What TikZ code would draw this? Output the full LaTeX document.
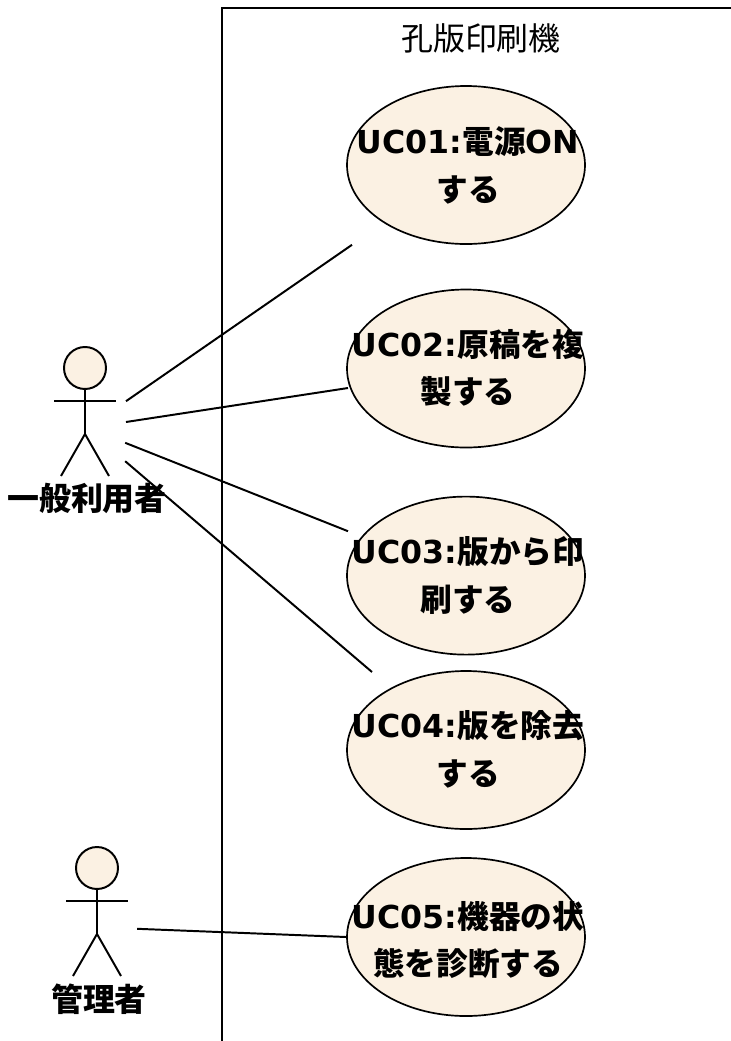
\documentclass[tikz,border=0pt]{standalone}
\usepackage{fontspec}
\setmainfont{DejaVu Sans}
\newfontfamily\cjk{Noto Sans CJK JP}
\usetikzlibrary{shapes.geometric}
\definecolor{usecasefill}{HTML}{FBF1E3}
\tikzset{
  usecase/.style={ellipse, draw, line width=1.2pt, fill=usecasefill, minimum width=5.95cm, minimum height=3.95cm, inner sep=0pt},
  uclabel/.style={align=center, inner sep=0pt, font=\fontsize{22.5}{34}\selectfont\bfseries},
  actorlabel/.style={inner sep=0pt, font=\fontsize{22.7}{26}\selectfont\cjk\bfseries},
  head/.style={circle, draw, line width=1.4pt, fill=usecasefill, minimum size=1.05cm, inner sep=0pt},
  stick/.style={line width=1.4pt},
  link/.style={line width=1.4pt}
}
\newcommand{\ja}[1]{{\cjk #1}}

\begin{document}
\begin{tikzpicture}
  \useasboundingbox (0cm,0cm) rectangle (18.275cm,-26.025cm);
  \coordinate (framebottom) at (5.54cm,-26.025cm);
  \coordinate (framecorner) at (5.54cm,-0.2cm);
  \coordinate (frameright) at (18.275cm,-0.2cm);
  \draw[stick] (framebottom) -- (framecorner) -- (frameright);
  \node[inner sep=0pt, font=\fontsize{22.7}{26}\selectfont\cjk] (system) at (12.025cm,-0.95cm) {孔版印刷機};

  \node[usecase] (uc01) at (11.65cm,-4.125cm) {};
  \node[uclabel] (uc01text) at (11.7cm,-4.125cm) {UC01:\ja{電源}ON\\\ja{する}};
  \node[usecase] (uc02) at (11.65cm,-9.2125cm) {};
  \node[uclabel] (uc02text) at (11.7cm,-9.2cm) {UC02:\ja{原稿を複}\\\ja{製する}};
  \node[usecase] (uc03) at (11.65cm,-14.39cm) {};
  \node[uclabel] (uc03text) at (11.7cm,-14.38cm) {UC03:\ja{版から印}\\\ja{刷する}};
  \node[usecase] (uc04) at (11.65cm,-18.75cm) {};
  \node[uclabel] (uc04text) at (11.7cm,-18.73cm) {UC04:\ja{版を除去}\\\ja{する}};
  \node[usecase] (uc05) at (11.65cm,-23.425cm) {};
  \node[uclabel] (uc05text) at (11.7cm,-23.5cm) {UC05:\ja{機器の状}\\\ja{態を診断する}};

  \foreach \name/\x/\y in {user/2.125/-9.2, admin/2.425/-21.7} {
    \node[head] (\name head) at (\x cm,\y cm) {};
    \coordinate (\name hip) at (\x cm,\y cm -1.65cm);
    \coordinate (\name armleft) at (\x cm -0.77cm,\y cm -0.83cm);
    \coordinate (\name armright) at (\x cm +0.77cm,\y cm -0.83cm);
    \coordinate (\name footleft) at (\x cm -0.6cm,\y cm -2.7cm);
    \coordinate (\name footright) at (\x cm +0.6cm,\y cm -2.7cm);
    \draw[stick] (\name head) -- (\name hip);
    \draw[stick] (\name armleft) -- (\name armright);
    \draw[stick] (\name footleft) -- (\name hip) -- (\name footright);
  }
  \node[actorlabel] (userlabel) at (2.175cm,-12.45cm) {一般利用者};
  \node[actorlabel] (adminlabel) at (2.475cm,-24.97cm) {管理者};

  \coordinate (userend1) at (3.15cm,-10.03cm);
  \coordinate (userend2) at (3.15cm,-10.55cm);
  \coordinate (userend3) at (3.13cm,-11.07cm);
  \coordinate (userend4) at (3.13cm,-11.53cm);
  \coordinate (adminend) at (3.43cm,-23.22cm);
  \coordinate (uc01end) at (8.8cm,-6.12cm);
  \coordinate (uc02end) at (8.7cm,-9.7cm);
  \coordinate (uc03end) at (8.7cm,-13.28cm);
  \coordinate (uc04end) at (9.3cm,-16.8cm);
  \draw[link] (userend1) -- (uc01end);
  \draw[link] (userend2) -- (uc02end);
  \draw[link] (userend3) -- (uc03end);
  \draw[link] (userend4) -- (uc04end);
  \draw[link] (adminend) -- (uc05.west);
\end{tikzpicture}
\end{document}
